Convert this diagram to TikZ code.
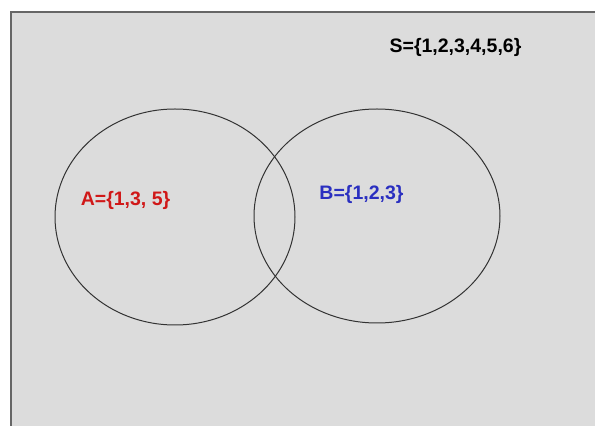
\documentclass[tikz,border=0pt]{standalone}
\usepackage{fontspec}
\setmainfont{Liberation Sans}
\usetikzlibrary{positioning,shapes.geometric}
\definecolor{venngray}{HTML}{DCDCDC}
\definecolor{venndark}{HTML}{333333}
\definecolor{vennframe}{HTML}{666666}
\definecolor{vennred}{HTML}{D01818}
\definecolor{vennblue}{HTML}{2A2FC0}

\begin{document}
\begin{tikzpicture}[x=1pt, y=1pt,
    every node/.style={font=\fontsize{19.5}{21}\selectfont\bfseries},
    setring/.style={ellipse, draw=venndark, line width=1pt, inner sep=0pt}]
        \useasboundingbox (0,0) rectangle (595,426);
        % universe
        \fill[venngray] (11,0) rectangle (595,414);
        \draw[vennframe, line width=1.6pt] (11,0) -- (11,414) -- (595,414);
        % sets
        \node[setring, minimum width=240pt, minimum height=216pt] (setA) at (175,209) {};
        \node[setring, minimum width=246pt, minimum height=214pt] (setB) at (377,210) {};
        % labels
        \node (univ) at (455.5,379) {S=\{1,2,3,4,5,6\}};
        \node[vennred] (labA) at (125.5,226) {A=\{1,3, 5\}};
        \node[vennblue] (labB) at (361.5,232) {B=\{1,2,3\}};
      \end{tikzpicture}
\end{document}
